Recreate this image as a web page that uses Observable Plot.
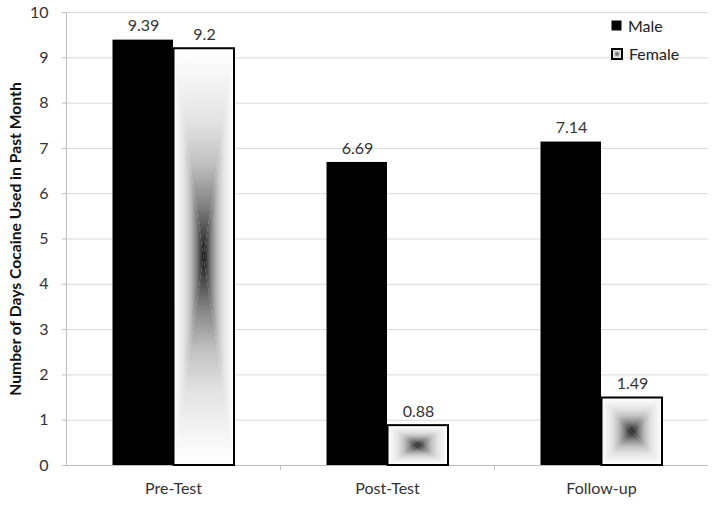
<!DOCTYPE html>
<html><head><meta charset="utf-8">
<script src="https://cdn.jsdelivr.net/npm/d3@7"></script>
<script src="https://cdn.jsdelivr.net/npm/@observablehq/plot@0.6"></script>
<style>
body{margin:0;background:#fff;font-family:Lato,sans-serif}
#wrap{position:relative;width:714px;height:508px;overflow:hidden}
.lg{position:absolute;display:flex;align-items:center;font:16px Lato,sans-serif;color:#222;white-space:nowrap}
.lg svg{margin-right:6px;display:block}
</style></head><body>
<svg width="0" height="0" style="position:absolute">
<defs>
<linearGradient id="gTop" x1="0" y1="0" x2="0" y2="1">
<stop offset="0" stop-color="#ffffff"/><stop offset="0.12" stop-color="#f7f7f7"/><stop offset="0.35" stop-color="#e3e3e3"/><stop offset="0.55" stop-color="#c2c2c2"/><stop offset="0.75" stop-color="#848484"/><stop offset="0.9" stop-color="#444444"/><stop offset="1" stop-color="#111111"/>
</linearGradient>
<linearGradient id="gBot" href="#gTop" x1="0" y1="1" x2="0" y2="0"/>
<linearGradient id="gLeft" href="#gTop" x1="0" y1="0" x2="1" y2="0"/>
<linearGradient id="gRight" href="#gTop" x1="1" y1="0" x2="0" y2="0"/>
<pattern id="fgrad" patternUnits="objectBoundingBox" patternContentUnits="objectBoundingBox" width="1" height="1">
<rect x="0" y="0" width="1" height="1" fill="#fff"/>
<polygon points="0,0 1,0 0.5,0.5" fill="url(#gTop)"/>
<polygon points="0,1 1,1 0.5,0.5" fill="url(#gBot)"/>
<polygon points="0,0 0,1 0.5,0.5" fill="url(#gLeft)"/>
<polygon points="1,0 1,1 0.5,0.5" fill="url(#gRight)"/>
</pattern>
</defs>
</svg>
<div id="wrap"><div id="chart"></div></div>
<script>
const categories = ["Pre-Test", "Post-Test", "Follow-up"];
const seriesNames = ["Male", "Female"];
const maleValues = [9.39, 6.69, 7.14];
const femaleValues = [9.2, 0.88, 1.49];
const yTicks = [0, 1, 2, 3, 4, 5, 6, 7, 8, 9, 10];
const yTitle = "Number of Days Cocaine Used in Past Month";

const male = categories.map((c, i) => ({cat: c, value: maleValues[i]}));
const female = categories.map((c, i) => ({cat: c, value: femaleValues[i]}));

const chart = Plot.plot({
  width: 714, height: 508,
  marginLeft: 66, marginRight: 6, marginTop: 12, marginBottom: 43,
  style: {fontFamily: "Lato, sans-serif", fontSize: "16px", color: "#333", background: "#fff"},
  x: {domain: categories, padding: 0, label: null},
  y: {domain: [0, 10], label: null},
  marks: [
    Plot.gridY(yTicks, {stroke: "#d9d9d9", strokeOpacity: 1}),
    Plot.axisY(yTicks, {tickSize: 4, tickPadding: 14, stroke: "#bfbfbf", fill: "#333", fontSize: 16, label: null}),
    Plot.ruleX([categories[0]], {dx: -107, y1: 0, y2: 10, stroke: "#bfbfbf"}),
    Plot.ruleY([0], {stroke: "#bfbfbf"}),
    Plot.ruleX(categories.slice(1), {dx: -107, y1: 0, y2: 0, insetBottom: -5, stroke: "#bfbfbf"}),
    Plot.axisX({tickSize: 0, tickPadding: 17, fontSize: 16, fill: "#333", label: null}),
    Plot.barY(male, {x: "cat", y: "value", fill: "#000", insetLeft: 46.5, insetRight: 107}),
    Plot.barY(female, {x: "cat", y: "value", fill: "url(#fgrad)", stroke: "#000", strokeWidth: 2, insetLeft: 107.5, insetRight: 46}),
    Plot.text(male, {x: "cat", y: "value", text: d => String(d.value), dx: -30, dy: -14, fill: "#333", fontSize: 16}),
    Plot.text(female, {x: "cat", y: "value", text: d => String(d.value), dx: 31, dy: -14, fill: "#333", fontSize: 16}),
    Plot.text([yTitle], {frameAnchor: "left", textAnchor: "middle", rotate: -90, dx: -51, fontWeight: "bold", fontSize: 15.7, fill: "#111"})
  ]
});
document.getElementById("chart").appendChild(chart);

const wrap = document.getElementById("wrap");
const legendPos = [{left: 611, top: 16}, {left: 611, top: 44}];
seriesNames.forEach((name, i) => {
  const div = document.createElement("div");
  div.className = "lg";
  div.style.left = legendPos[i].left + "px";
  div.style.top = legendPos[i].top + "px";
  const sw = i === 0
    ? '<svg width="11" height="11"><rect x="0.5" y="0.5" width="10" height="10" fill="#000"/></svg>'
    : '<svg width="12" height="12"><rect x="1" y="1" width="10" height="10" fill="url(#fgrad)" stroke="#000" stroke-width="2"/></svg>';
  div.innerHTML = sw + '<span>' + name + '</span>';
  wrap.appendChild(div);
});
</script>
</body></html>
